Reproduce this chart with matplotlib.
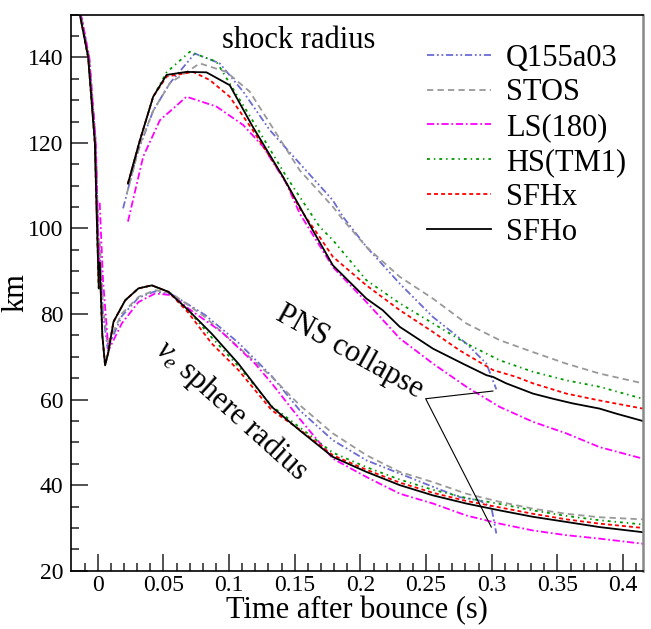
import numpy as np
import matplotlib
matplotlib.use("Agg")
import matplotlib.pyplot as plt

plt.rcParams["font.family"] = ["Liberation Serif", "DejaVu Serif"]
plt.rcParams["mathtext.fontset"] = "custom"
plt.rcParams["mathtext.rm"] = "Liberation Serif"
plt.rcParams["mathtext.it"] = "Liberation Serif:italic"

MODELS = ["Q155a03", "STOS", "LS(180)", "HS(TM1)", "SFHx", "SFHo"]

# pre-bounce infall (shock radius before bounce)
INFALL_T = [-0.02, -0.0136, -0.0073, -0.0022, -0.0005, 0.0008]
INFALL_R = [157, 150, 140, 120, 100, 86]
INFALL_T_SOFT = [-0.02, -0.0128, -0.0065, -0.0015, 0.0002, 0.0015]
INFALL_R_SOFT = [158, 150, 140, 120, 100, 90]

# shock radius after bounce
SHOCK_T = {
    "Q155a03": [0.0193, 0.03, 0.0422, 0.055, 0.0739, 0.0929, 0.1107, 0.131, 0.1538,
                0.179, 0.1868, 0.2046, 0.23, 0.2553, 0.2807, 0.296, 0.3035],
    "STOS": [0.022, 0.032, 0.0422, 0.055, 0.0777, 0.098, 0.1157, 0.136, 0.1538, 0.179,
             0.1868, 0.2046, 0.23, 0.2553, 0.2807, 0.306, 0.3314, 0.3568, 0.382, 0.415],
    "LS(180)": [0.023, 0.0346, 0.0473, 0.0676, 0.0904, 0.1107, 0.126, 0.1437, 0.1538,
                0.179, 0.2046, 0.23, 0.2553, 0.2807, 0.306, 0.3314, 0.3568, 0.382, 0.415],
    "HS(TM1)": [0.023, 0.032, 0.0422, 0.0524, 0.0701, 0.0904, 0.1005, 0.1208, 0.1437,
                0.1538, 0.169, 0.179, 0.2046, 0.23, 0.2553, 0.2807, 0.306, 0.3314,
                0.3568, 0.382, 0.415],
    "SFHx": [0.023, 0.032, 0.0422, 0.0524, 0.0726, 0.0853, 0.1005, 0.118, 0.141, 0.1538,
             0.169, 0.179, 0.2046, 0.23, 0.2553, 0.2756, 0.301, 0.3187, 0.3314, 0.3568,
             0.382, 0.415],
    "SFHo": [0.023, 0.032, 0.0422, 0.0524, 0.0676, 0.0828, 0.1005, 0.118, 0.141, 0.1538,
             0.163, 0.179, 0.2046, 0.217, 0.23, 0.2553, 0.278, 0.296, 0.301, 0.311,
             0.3314, 0.3466, 0.3618, 0.382, 0.395, 0.415],
}
SHOCK_R = {
    "Q155a03": [104.7, 117.5, 127.5, 134, 140.9, 138.6, 132.0, 123.0, 115.2,
                106.6, 102.7, 95.7, 87.1, 79.3, 73.1, 68.4, 62.4],
    "STOS": [108, 119.5, 127.5, 134, 138.6, 136.6, 132.0, 122.2, 113.6, 105.1,
             102.0, 95.7, 88.7, 83.6, 77.8, 73.9, 71.1, 68.4, 66.1, 63.8],
    "LS(180)": [101.6, 116.8, 125.3, 130.8, 128.5, 124.2, 119.1, 110.5, 103.5,
                91.0, 82.8, 74.3, 68.4, 63.0, 58.3, 54.8, 52.1, 48.9, 46.2],
    "HS(TM1)": [110.5, 120.5, 130.8, 136.5, 141.3, 139.0, 133.9, 123.8, 112.1,
                107.4, 100.4, 97.3, 87.9, 82.5, 77.8, 73.1, 69.2, 66.5,
                64.5, 63.0, 60.2],
    "SFHx": [110.5, 120.5, 130.8, 135.5, 136.6, 134.7, 130.8, 123.0, 112.1, 104.7,
             98.0, 93.4, 86.7, 80.9, 75.8, 71.5, 66.9, 65.3, 63.8, 61.4,
             59.8, 57.9],
    "SFHo": [110.5, 120.5, 130.8, 135.9, 136.6, 136.5, 133.5, 123.8, 112.1, 105.1,
             100.0, 91.4, 83.6, 80.9, 77.0, 71.9, 68.4, 65.7, 65.3, 63.8,
             61.4, 60.2, 59.1, 57.9, 56.7, 55.0],
}

# electron-neutrino sphere radius
NU_T = {
    "Q155a03": [0.0015, 0.004, 0.0075, 0.0183, 0.031, 0.0437, 0.0564, 0.0817, 0.1071,
                0.1325, 0.1538, 0.179, 0.2046, 0.23, 0.2553, 0.2756, 0.2907, 0.2997,
                0.3035],
    "STOS": [0.0015, 0.004, 0.0075, 0.0183, 0.031, 0.0437, 0.0564, 0.0817, 0.1071,
             0.1325, 0.1538, 0.179, 0.2046, 0.23, 0.2553, 0.2807, 0.306, 0.3314,
             0.3568, 0.382, 0.415],
    "LS(180)": [0.0015, 0.004, 0.0082, 0.0183, 0.031, 0.0437, 0.0564, 0.069, 0.0944,
                0.1198, 0.1325, 0.1538, 0.179, 0.2046, 0.23, 0.2553, 0.2807, 0.306,
                0.3314, 0.3568, 0.382, 0.415],
    "HS(TM1)": [0.0015, 0.0035, 0.0056, 0.008, 0.012, 0.0209, 0.031, 0.0412, 0.0538,
                0.069, 0.0868, 0.1071, 0.1325, 0.1538, 0.179, 0.2046, 0.23, 0.2553,
                0.2807, 0.306, 0.3314, 0.3568, 0.382, 0.415],
    "SFHx": [0.0015, 0.0035, 0.0056, 0.008, 0.012, 0.0209, 0.031, 0.0412, 0.0538,
             0.069, 0.0868, 0.1071, 0.1325, 0.1538, 0.179, 0.2046, 0.23, 0.2553,
             0.2807, 0.306, 0.3314, 0.3568, 0.382, 0.415],
    "SFHo": [0.0015, 0.0035, 0.0056, 0.008, 0.012, 0.0209, 0.031, 0.0412, 0.0538,
             0.069, 0.0868, 0.1071, 0.1325, 0.1538, 0.179, 0.2046, 0.23, 0.2553,
             0.2807, 0.306, 0.3314, 0.3568, 0.382, 0.415],
}
NU_R = {
    "Q155a03": [95, 80, 72, 79.5, 83.8, 85.3, 84.6, 79.8, 73.3, 65.5, 57.5, 50.5,
                45.8, 42.7, 39.6, 37.2, 36.4, 34.9, 28.7],
    "STOS": [97, 82, 73, 80.1, 84, 85.6, 84.8, 79.3, 72.3, 65.3, 58.7, 52.1,
             47.0, 43.1, 40.7, 38.0, 36.1, 34.5, 33.3, 32.5, 32.0],
    "LS(180)": [106, 88, 71.5, 77.8, 82.8, 84.8, 84.4, 81.3, 75.8, 68.4, 63.8,
                55.5, 46.2, 41.9, 38.0, 35.7, 32.9, 31.0, 29.4, 28.3, 27.5, 26.3],
    "HS(TM1)": [92, 75, 68.0, 71, 78.2, 83.2, 86.0, 86.7, 85.2, 80.9, 74.5, 67.8,
                58.5, 53.5, 47.6, 44.2, 41.3, 38.9, 37.0, 35.6, 34.1, 32.8, 31.8, 30.8],
    "SFHx": [92, 75, 68.0, 71, 78.2, 83.2, 86.0, 86.7, 85.2, 80.3, 73.1, 66.9,
             57.5, 53.0, 47.0, 43.6, 40.6, 38.2, 36.3, 34.8, 33.3, 32.0, 31.0, 30.0],
    "SFHo": [92, 75, 68.0, 71, 78.2, 83.2, 86.0, 86.7, 85.2, 80.9, 75.4, 68.4,
             58.3, 52.8, 46.6, 43.1, 40.0, 37.6, 35.7, 34.1, 32.6, 31.4, 30.2, 29.0],
}

# "PNS collapse" pointer lines (end of Q155a03 curves)
COLLAPSE_T = [0.3009, 0.2497, 0.2997]
COLLAPSE_R = [62.0, 60.2, 30.2]

STYLES = {
    "Q155a03": dict(color="#6b6bd3", dashes=(4, 1.5, 1, 1.5, 1, 1.5)),
    "STOS": dict(color="#999999", dashes=(3.5, 2.3)),
    "LS(180)": dict(color="#ff00ff", dashes=(4, 1.5, 1, 1.5)),
    "HS(TM1)": dict(color="#009900", dashes=(1.6, 2.2, 0.8, 2.2)),
    "SFHx": dict(color="#ff0000", dashes=(2.2, 1.7)),
    "SFHo": dict(color="black", linestyle="-"),
}
SOFT_INFALL = ["Q155a03", "STOS", "LS(180)"]

fig = plt.figure(figsize=(6.51, 6.29), dpi=100)
ax = fig.add_axes([0.1098, 0.0927, 0.8775, 0.8841])

for m in MODELS:
    st = STYLES[m]
    if m in SOFT_INFALL:
        it, ir = INFALL_T_SOFT, INFALL_R_SOFT
    else:
        it, ir = INFALL_T, INFALL_R
    ax.plot(it, ir, lw=1.3, **st)
    ax.plot(NU_T[m], NU_R[m], lw=1.3, **st)
    ax.plot(SHOCK_T[m], SHOCK_R[m], lw=1.3, label=m, **st)

ax.plot(COLLAPSE_T, COLLAPSE_R, color="black", lw=0.8)

ax.set_xlim(-0.02, 0.415)
ax.set_ylim(20, 150)
ax.set_xticks(np.arange(0, 0.41, 0.05))
ax.set_xticklabels(["0", "0.05", "0.1", "0.15", "0.2", "0.25", "0.3", "0.35", "0.4"])
ax.set_xticks(np.arange(-0.01, 0.415, 0.01), minor=True)
ax.set_yticks(np.arange(20, 141, 20))
ax.set_yticks(np.arange(20, 151, 5), minor=True)
ax.tick_params(which="both", direction="in", top=False, right=False,
               labelsize=17, color="#333333", width=1.2)
ax.tick_params(which="major", length=12)
ax.tick_params(axis="x", which="major", pad=3)
ax.tick_params(axis="y", which="major", pad=6)
ax.tick_params(which="minor", length=6)
ax.spines["right"].set_color("#888888")
ax.spines["right"].set_linewidth(1.8)
for s in ["left", "bottom", "top"]:
    ax.spines[s].set_linewidth(1.2)

ax.set_xlabel("Time after bounce (s)", fontsize=22, labelpad=0)
ax.set_ylabel("km", fontsize=22)
ax.yaxis.set_label_coords(-0.072, 0.5)

ax.text(0.397, 0.954, "shock radius", transform=ax.transAxes, fontsize=22,
        ha="center", va="center")
ax.text(0.192, 71.1, "PNS collapse", fontsize=22, rotation=-29,
        ha="center", va="center", rotation_mode="anchor")
ax.text(0.102, 57.5, r"$\nu_e$ sphere radius", fontsize=22, rotation=-42,
        ha="center", va="center", rotation_mode="anchor")

ax.legend(loc="upper left", bbox_to_anchor=(0.622, 0.948), frameon=False,
          fontsize=22, handlelength=2.1, handletextpad=0.5, labelspacing=0.19,
          borderpad=0, borderaxespad=0)

fig.savefig("out.png", dpi=100)
